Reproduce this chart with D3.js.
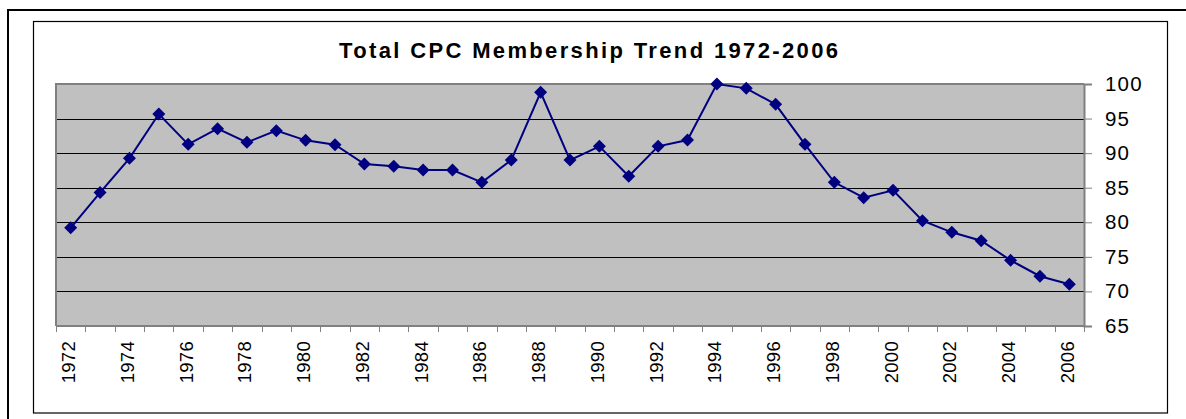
<!DOCTYPE html>
<html><head><meta charset="utf-8">
<script src="https://cdn.jsdelivr.net/npm/d3@7/dist/d3.min.js"></script>
<style>body{margin:0;background:#fff;}svg{display:block;font-family:"Liberation Sans",Arial,sans-serif;}</style>
</head><body>
<svg id="c" width="1186" height="419"></svg>
<script>
const years = d3.range(1972, 2007).map(String);
const members = [79.2,84.3,89.25,95.66,91.27,93.54,91.56,93.25,91.85,91.23,88.43,88.1,87.56,87.56,85.78,89.0,98.8,89.0,90.98,86.65,90.98,91.9,100.0,99.37,97.06,91.27,85.78,83.56,84.62,80.23,78.55,77.34,74.5,72.2,71.03];
const yTicks = [65,70,75,80,85,90,95,100];
const xLabels = years.filter((d,i)=>i%2===0);
const title = "Total CPC Membership Trend 1972-2006";

const svg = d3.select("#c");
// frames
svg.append("rect").attr("x",8).attr("y",10).attr("width",1190).attr("height",420).attr("fill","none").attr("stroke","#000").attr("stroke-width",2);
svg.append("rect").attr("x",33.5).attr("y",21.5).attr("width",1134).attr("height",391.5).attr("fill","#fff").attr("stroke","#000").attr("stroke-width",1.2);

const L=56,R=1084,T=84,B=326;
const x = d3.scaleBand().domain(years).range([L,R]);
const y = d3.scaleLinear().domain([65,100]).range([B,T]);

svg.append("rect").attr("x",L).attr("y",T).attr("width",R-L).attr("height",B-T).attr("fill","#c0c0c0");
// gridlines
svg.append("g").selectAll("line").data(yTicks.filter(v=>v>65&&v<100)).join("line")
  .attr("x1",L).attr("x2",R).attr("y1",d=>Math.round(y(d))+0.5).attr("y2",d=>Math.round(y(d))+0.5)
  .attr("stroke","#000").attr("stroke-width",1);
// plot border top/left
svg.append("path").attr("d",`M${L},${B}V${T}H${R}`).attr("fill","none").attr("stroke","#808080").attr("stroke-width",2);

// right y axis
const ya = svg.append("g").attr("transform",`translate(${R},0)`).call(d3.axisRight(y).tickValues(yTicks).tickSize(8).tickPadding(13));
ya.select(".domain").attr("stroke","#808080").attr("stroke-width",2);
ya.selectAll(".tick line").attr("stroke","#808080");
ya.selectAll("text").attr("font-size",20.5).attr("letter-spacing",1.2).attr("fill","#000").attr("font-family","Liberation Sans, Arial, sans-serif");

// bottom x axis with ticks at boundaries
const xa = svg.append("g").attr("transform",`translate(0,${B})`);
xa.append("line").attr("x1",L).attr("x2",R).attr("y1",0).attr("y2",0).attr("stroke","#808080").attr("stroke-width",2);
const bounds = years.map(d=>x(d)).concat([R]);
xa.selectAll("line.t").data(bounds).join("line").attr("class","t")
  .attr("x1",d=>Math.round(d)+0.5).attr("x2",d=>Math.round(d)+0.5).attr("y1",0).attr("y2",6).attr("stroke","#808080");
xa.selectAll("text").data(xLabels).join("text")
  .attr("transform",d=>`translate(${x(d)+x.bandwidth()/2-2},15) rotate(-90)`)
  .attr("text-anchor","end").attr("dominant-baseline","central")
  .attr("font-size",18.5).attr("letter-spacing",0.3).attr("fill","#000").text(d=>d);

// line
const cx = (d,i)=>x(years[i])+x.bandwidth()/2;
svg.append("path").datum(members)
  .attr("d",d3.line().x((d,i)=>cx(d,i)).y(d=>y(d)))
  .attr("fill","none").attr("stroke","#000080").attr("stroke-width",2);
svg.append("g").selectAll("path").data(members).join("path")
  .attr("transform",(d,i)=>`translate(${cx(d,i)},${y(d)})`)
  .attr("d","M0,-6.5L6.5,0L0,6.5L-6.5,0Z").attr("fill","#000080");

svg.append("text").attr("x",339).attr("y",58).attr("text-anchor","start")
  .attr("textLength",499).attr("lengthAdjust","spacing")
  .attr("font-size",22).attr("font-weight","bold").attr("fill","#000").text(title);
</script>
</body></html>
